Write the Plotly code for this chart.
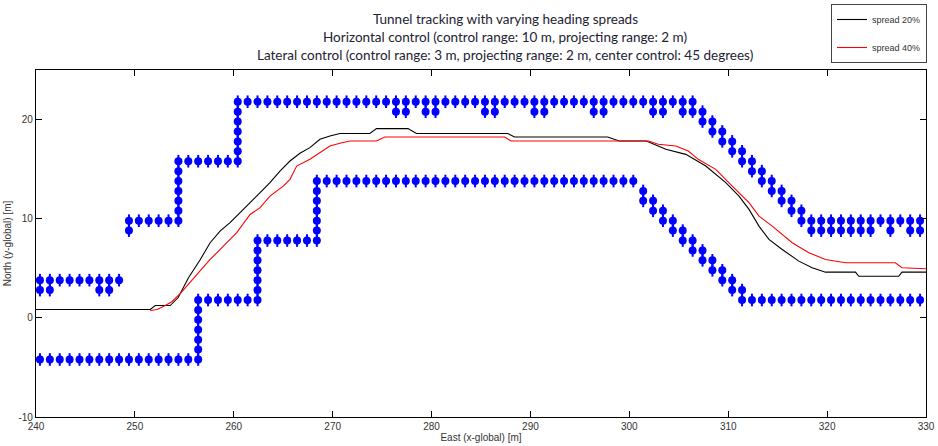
import plotly.graph_objects as go

# ---- trajectory data ----
black_x = [240.0, 251.55, 252.06, 253.57, 254.38, 255.42, 256.60, 257.61, 258.61, 259.62,
           260.64, 261.65, 262.66, 263.66, 264.67, 265.68, 266.69, 267.70, 268.71, 269.72,
           270.73, 273.76, 274.43, 277.62, 278.47, 287.71, 288.39, 297.80, 298.99, 301.72,
           303.69, 305.71, 307.73, 309.75, 311.09, 312.10, 313.11, 314.12, 315.46, 317.14,
           318.49, 319.84, 322.87, 323.20, 327.24, 327.57, 330.0]
black_y = [0.85, 0.85, 1.24, 1.24, 2.05, 4.04, 5.86, 7.58, 8.75, 9.60,
           10.61, 11.62, 12.63, 13.64, 14.81, 15.82, 16.60, 17.17, 18.01, 18.34,
           18.59, 18.59, 19.09, 19.09, 18.59, 18.59, 18.24, 18.24, 17.84, 17.84,
           17.00, 16.49, 15.31, 13.64, 12.28, 10.94, 9.25, 7.91, 6.90, 5.72,
           5.05, 4.61, 4.61, 4.20, 4.20, 4.61, 4.61]

red_x = [251.55, 252.26, 253.07, 253.77, 254.58, 255.92, 256.60, 257.61, 258.95, 260.30,
         261.65, 262.66, 263.66, 265.01, 265.68, 266.36, 267.70, 268.71, 269.72, 270.73,
         271.74, 274.43, 275.27, 287.38, 288.05, 301.92, 302.93, 304.70, 305.96, 306.97,
         308.74, 310.41, 312.10, 313.11, 314.45, 316.47, 318.15, 319.84, 321.86, 326.90,
         327.57, 330.0]
red_y = [0.74, 0.84, 1.24, 1.65, 2.45, 3.97, 4.68, 5.89, 7.23, 8.59,
         10.43, 11.11, 12.28, 13.29, 13.97, 15.31, 15.99, 16.67, 17.33, 17.61,
         17.84, 17.84, 18.24, 18.24, 17.84, 17.84, 17.51, 17.33, 16.83, 15.99,
         14.98, 13.29, 11.62, 10.26, 9.25, 7.58, 6.57, 5.89, 5.56, 5.56,
         5.05, 4.95]

# ---- tunnel wall points ----
lower_wall_x = [
    240.4, 241.4, 242.4, 243.4, 244.4, 245.4, 246.4, 247.4, 248.4, 249.4, 250.4, 251.4,
    252.4, 253.4, 254.4, 255.4, 256.4,
    256.4, 256.4, 256.4, 256.4, 256.4, 256.4,
    257.4, 258.4, 259.4, 260.4, 261.4, 262.4,
    262.4, 262.4, 262.4, 262.4, 262.4, 262.4,
    263.4, 264.4, 265.4, 266.4, 267.4, 268.4,
    268.4, 268.4, 268.4, 268.4, 268.4, 268.4,
    269.4, 270.4, 271.4, 272.4, 273.4, 274.4, 275.4, 276.4, 277.4, 278.4, 279.4, 280.4,
    281.4, 282.4, 283.4, 284.4, 285.4, 286.4, 287.4, 288.4, 289.4, 290.4, 291.4, 292.4,
    293.4, 294.4, 295.4, 296.4, 297.4, 298.4, 299.4, 300.4,
    301.4, 301.4, 302.4, 302.4, 303.4, 303.4, 304.4, 304.4, 305.4, 305.4, 306.4, 306.4,
    307.4, 307.4, 308.4, 308.4, 309.4, 309.4, 310.4, 310.4, 311.4, 311.4,
    312.4, 313.4, 314.4, 315.4, 316.4, 317.4, 318.4, 319.4, 320.4, 321.4, 322.4, 323.4,
    324.4, 325.4, 326.4, 327.4, 328.4, 329.4]
lower_wall_y = [
    -4.2, -4.2, -4.2, -4.2, -4.2, -4.2, -4.2, -4.2, -4.2, -4.2, -4.2, -4.2,
    -4.2, -4.2, -4.2, -4.2, -4.2,
    -3.2, -2.2, -1.2, -0.2, 0.8, 1.8,
    1.8, 1.8, 1.8, 1.8, 1.8, 1.8,
    2.8, 3.8, 4.8, 5.8, 6.8, 7.8,
    7.8, 7.8, 7.8, 7.8, 7.8, 7.8,
    8.8, 9.8, 10.8, 11.8, 12.8, 13.8,
    13.8, 13.8, 13.8, 13.8, 13.8, 13.8, 13.8, 13.8, 13.8, 13.8, 13.8, 13.8,
    13.8, 13.8, 13.8, 13.8, 13.8, 13.8, 13.8, 13.8, 13.8, 13.8, 13.8, 13.8,
    13.8, 13.8, 13.8, 13.8, 13.8, 13.8, 13.8, 13.8,
    12.8, 11.8, 11.8, 10.8, 10.8, 9.8, 9.8, 8.8, 8.8, 7.8, 7.8, 6.8,
    6.8, 5.8, 5.8, 4.8, 4.8, 3.8, 3.8, 2.8, 2.8, 1.8,
    1.8, 1.8, 1.8, 1.8, 1.8, 1.8, 1.8, 1.8, 1.8, 1.8, 1.8, 1.8,
    1.8, 1.8, 1.8, 1.8, 1.8, 1.8]

upper_wall_x = [
    240.4, 241.4, 242.4, 243.4, 244.4, 245.4, 246.4, 247.4, 248.4,
    240.4, 241.4, 246.4, 247.4,
    249.4, 250.4, 251.4, 252.4, 253.4, 254.4,
    249.4,
    254.4, 254.4, 254.4, 254.4, 254.4, 254.4,
    255.4, 256.4, 257.4, 258.4, 259.4, 260.4,
    260.4, 260.4, 260.4, 260.4, 260.4, 260.4,
    261.4, 262.4, 263.4, 264.4, 265.4, 266.4, 267.4, 268.4, 269.4, 270.4, 271.4, 272.4,
    273.4, 274.4, 275.4, 276.4, 277.4, 278.4, 279.4, 280.4, 281.4, 282.4, 283.4, 284.4,
    285.4, 286.4, 287.4, 288.4, 289.4, 290.4, 291.4, 292.4, 293.4, 294.4, 295.4, 296.4,
    297.4, 298.4, 299.4, 300.4, 301.4, 302.4, 303.4, 304.4, 305.4, 306.4,
    276.4, 277.4, 279.4, 280.4, 285.4, 286.4, 290.4, 291.4, 296.4, 297.4, 302.4, 303.4,
    305.4, 306.4,
    307.4, 307.4, 308.4, 308.4, 309.4, 309.4, 310.4, 310.4, 311.4, 311.4, 312.4, 312.4,
    313.4, 313.4, 314.4, 314.4, 315.4, 315.4, 316.4, 316.4, 317.4, 317.4,
    318.4, 319.4, 320.4, 321.4, 322.4, 323.4, 324.4, 325.4, 326.4, 327.4, 328.4, 329.4,
    318.4, 319.4, 320.4, 321.4, 322.4, 323.4, 324.4, 326.4, 328.4, 329.4]
upper_wall_y = [
    3.8, 3.8, 3.8, 3.8, 3.8, 3.8, 3.8, 3.8, 3.8,
    2.8, 2.8, 2.8, 2.8,
    9.8, 9.8, 9.8, 9.8, 9.8, 9.8,
    8.8,
    10.8, 11.8, 12.8, 13.8, 14.8, 15.8,
    15.8, 15.8, 15.8, 15.8, 15.8, 15.8,
    16.8, 17.8, 18.8, 19.8, 20.8, 21.8,
    21.8, 21.8, 21.8, 21.8, 21.8, 21.8, 21.8, 21.8, 21.8, 21.8, 21.8, 21.8,
    21.8, 21.8, 21.8, 21.8, 21.8, 21.8, 21.8, 21.8, 21.8, 21.8, 21.8, 21.8,
    21.8, 21.8, 21.8, 21.8, 21.8, 21.8, 21.8, 21.8, 21.8, 21.8, 21.8, 21.8,
    21.8, 21.8, 21.8, 21.8, 21.8, 21.8, 21.8, 21.8, 21.8, 21.8,
    20.8, 20.8, 20.8, 20.8, 20.8, 20.8, 20.8, 20.8, 20.8, 20.8, 20.8, 20.8,
    20.8, 20.8,
    20.8, 19.8, 19.8, 18.8, 18.8, 17.8, 17.8, 16.8, 16.8, 15.8, 15.8, 14.8,
    14.8, 13.8, 13.8, 12.8, 12.8, 11.8, 11.8, 10.8, 10.8, 9.8,
    9.8, 9.8, 9.8, 9.8, 9.8, 9.8, 9.8, 9.8, 9.8, 9.8, 9.8, 9.8,
    8.8, 8.8, 8.8, 8.8, 8.8, 8.8, 8.8, 8.8, 8.8, 8.8]

x_ticks = [240, 250, 260, 270, 280, 290, 300, 310, 320, 330]
y_ticks = [-10, 0, 10, 20]

title_lines = [
    "Tunnel tracking with varying heading spreads",
    "Horizontal control (control range: 10 m, projecting range: 2 m)",
    "Lateral control (control range: 3 m, projecting range: 2 m, center control: 45 degrees)",
]

BLUE = "#0000ff"
fig = go.Figure()

for wx, wy in [(lower_wall_x, lower_wall_y), (upper_wall_x, upper_wall_y)]:
    fig.add_trace(go.Scatter(x=wx, y=wy, mode="markers", showlegend=False, hoverinfo="skip",
                             marker=dict(symbol="line-ns-open", size=9, color=BLUE,
                                         line=dict(color=BLUE, width=2))))
    fig.add_trace(go.Scatter(x=wx, y=wy, mode="markers", showlegend=False, hoverinfo="skip",
                             marker=dict(symbol="circle", size=8, color=BLUE,
                                         line=dict(width=0))))

fig.add_trace(go.Scatter(x=black_x, y=black_y, mode="lines", name="spread 20%",
                         legendgroup="a", line=dict(color="black", width=1.1)))
fig.add_trace(go.Scatter(x=red_x, y=red_y, mode="lines", name="spread 40%",
                         legendgroup="b", line=dict(color="red", width=1.1)))

axis_common = dict(showgrid=False, zeroline=False, showline=True, linecolor="black",
                   linewidth=1.3, mirror="ticks", ticks="inside", ticklen=6,
                   tickcolor="black", tickwidth=1.2,
                   tickfont=dict(family="Liberation Sans", size=10, color="#333333"))

fig.update_xaxes(range=[240, 330], tickvals=x_ticks, ticktext=[str(v) for v in x_ticks],
                 title=dict(text="East (x-global) [m]", standoff=2,
                            font=dict(family="Liberation Sans", size=10, color="#333333")),
                 **axis_common)
fig.update_yaxes(range=[-10, 25], tickvals=y_ticks, ticktext=[str(v) for v in y_ticks],
                 title=dict(text="North (y-global) [m]", standoff=4,
                            font=dict(family="Liberation Sans", size=10, color="#333333")),
                 **axis_common)

for i, line in enumerate(title_lines):
    fig.add_annotation(text=line, xref="paper", yref="paper",
                       x=(505 - 36) / 890, y=(417 - (19 + 18 * i)) / 347,
                       xanchor="center", yanchor="middle", showarrow=False,
                       font=dict(family="Lato", size=13.5, color="#222233"))

fig.update_layout(
    width=938, height=446,
    margin=dict(l=36, r=12, t=70, b=29, autoexpand=False),
    paper_bgcolor="white", plot_bgcolor="white",
    legend=dict(x=(831 - 36) / 890, y=(417 - 4) / 347, xanchor="left", yanchor="top",
                bgcolor="white", bordercolor="#444444", borderwidth=1,
                font=dict(family="Liberation Sans", size=9, color="#333333"),
                tracegroupgap=9, traceorder="grouped", itemwidth=30),
)

fig.write_html("out.html")
